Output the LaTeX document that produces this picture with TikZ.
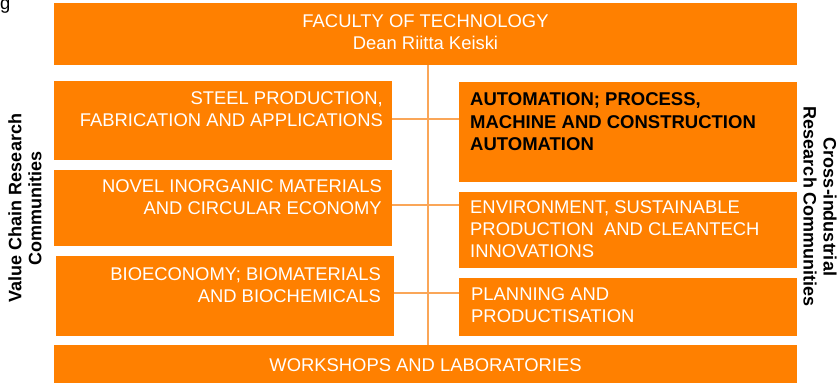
\documentclass[tikz,border=0pt]{standalone}
\usepackage{fontspec}
\setmainfont{Liberation Sans}
\usetikzlibrary{calc}
\definecolor{unitorange}{RGB}{255,128,0}
\definecolor{linkorange}{RGB}{250,166,88}

\begin{document}
\begin{tikzpicture}[x=1pt,y=-1pt,
  box/.style={fill=unitorange,inner sep=0pt,anchor=north west},
  txt/.style={inner sep=0pt,text=white,font=\fontsize{18.4}{22.4}\selectfont},
  side/.style={inner sep=0pt,align=center,font=\bfseries\fontsize{18}{20}\selectfont},
  link/.style={linkorange,line width=1.6pt}]
\useasboundingbox (0,0) rectangle (838,383);
\node[inner sep=0pt,anchor=base west,font=\fontsize{18.4}{22}\selectfont] (g) at (0,9.5) {g};

\node[box,minimum width=743,minimum height=62] (fac) at (54,3) {};
\node[box,minimum width=338,minimum height=79] (steel) at (54,81) {};
\node[box,minimum width=338,minimum height=76] (inorg) at (54,170) {};
\node[box,minimum width=338,minimum height=80] (bioeco) at (56,256) {};
\node[box,minimum width=338,minimum height=100] (autom) at (459,82) {};
\node[box,minimum width=338,minimum height=76] (enviro) at (459,192) {};
\node[box,minimum width=338,minimum height=58] (plan) at (459,278) {};
\node[box,minimum width=743,minimum height=38] (labs) at (54,345) {};

\coordinate (spine) at (428,0);
\coordinate (r1) at (428,119);
\coordinate (r2) at (428,205);
\coordinate (r3) at (428,293);
\draw[link] (fac.south -| spine) -- (labs.north -| spine);
\draw[link] (steel.east |- r1) -- (autom.west |- r1);
\draw[link] (inorg.east |- r2) -- (enviro.west |- r2);
\draw[link] (bioeco.east |- r3) -- (plan.west |- r3);

\node[txt,anchor=north,align=center] (factxt) at (425.5,14.5) {FACULTY OF TECHNOLOGY\\Dean Riitta Keiski};
\node[txt,anchor=north east,align=right] (steeltxt) at (383,91) {STEEL PRODUCTION,\\FABRICATION AND APPLICATIONS};
\node[txt,anchor=north east,align=right] (inorgtxt) at (382,179.5) {NOVEL INORGANIC MATERIALS\\AND CIRCULAR ECONOMY};
\node[txt,anchor=north east,align=right] (bioecotxt) at (381,267) {BIOECONOMY; BIOMATERIALS\\AND BIOCHEMICALS};
\node[txt,anchor=north west,align=left,text=black,font=\bfseries\fontsize{18.5}{22.4}\selectfont] (automtxt) at (470,92.5) {AUTOMATION; PROCESS,\\MACHINE AND CONSTRUCTION\\AUTOMATION};
\node[txt,anchor=north west,align=left] (envirotxt) at (470,200) {ENVIRONMENT, SUSTAINABLE\\PRODUCTION \ AND CLEANTECH\\INNOVATIONS};
\node[txt,anchor=north west,align=left] (plantxt) at (471,287) {PLANNING AND\\PRODUCTISATION};
\node[txt,anchor=north] (labstxt) at (425.5,358) {WORKSHOPS AND LABORATORIES};

\node[side,rotate=90] (vcrc) at (25,208) {Value Chain Research\\Communities};
\node[side,rotate=-90] (circ) at (820,207) {Cross-industrial\\Research Communities};
\end{tikzpicture}
\end{document}
